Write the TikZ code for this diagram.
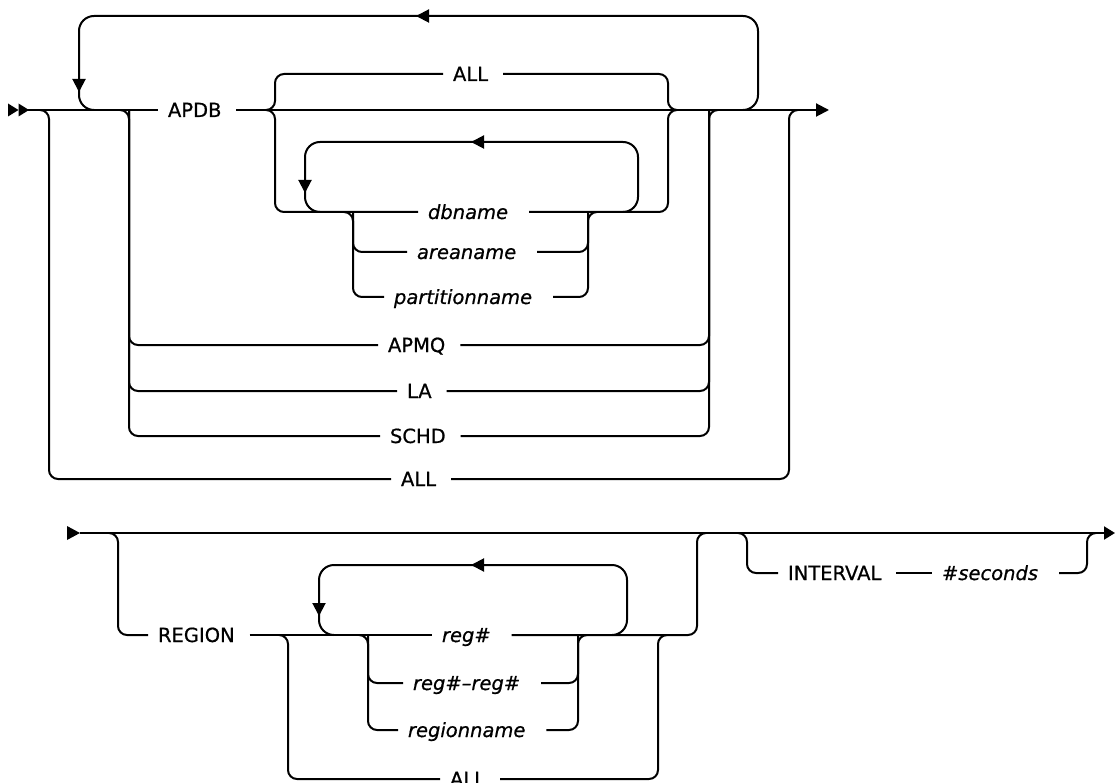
\documentclass[tikz,border=0pt]{standalone}
\usepackage{fontspec}
\setmainfont{DejaVu Sans}[FakeBold=0.7]
\usetikzlibrary{arrows.meta}
\newcommand\kwlab[1]{\kern9pt #1\kern14pt}
\newcommand\varlab[1]{\kern9pt\textit{#1}\kern20pt}
\begin{document}
\begin{tikzpicture}[x=1pt,y=-1pt,line width=2pt,
  lab/.style={inner sep=0pt,anchor=west,text height=14pt,text depth=0pt,font=\fontsize{19.5}{23}\selectfont},
  rail/.style={rounded corners=9pt},
  loopr/.style={rounded corners=15pt},
  headarrow/.style={-{Triangle[length=13pt,width=13pt]}}]
\useasboundingbox (0,0) rectangle (1115,783);

% ---------- top diagram ----------
\coordinate (startT) at (28,110);
\coordinate (s49) at (49,110);
\coordinate (l79) at (79,110);
\coordinate (s129) at (129,110);
\coordinate (s275) at (275,110);
\coordinate (m668) at (668,110);
\coordinate (m709) at (709,110);
\coordinate (l758) at (758,110);
\coordinate (m789) at (789,110);
\coordinate (endT) at (829,110);
\coordinate (lt1) at (758,16);
\coordinate (lt2) at (79,16);
\coordinate (l305) at (305,212);
\coordinate (l638) at (638,212);
\coordinate (it1) at (638,142);
\coordinate (it2) at (305,142);
\coordinate (s353) at (353,212);
\coordinate (m588) at (588,212);

\node[lab] (apdb) at (158,110) {\kwlab{APDB}};
\node[lab] (allA) at (443,74) {\kwlab{ALL}};
\node[lab] (dbname) at (418,212) {\varlab{dbname}};
\node[lab] (areaname) at (407,252) {\varlab{areaname}};
\node[lab] (partname) at (384,297) {\varlab{partitionname}};
\node[lab] (apmq) at (378,345) {\kwlab{APMQ}};
\node[lab] (la) at (397,391) {\kwlab{LA}};
\node[lab] (schd) at (380,436) {\kwlab{SCHD}};
\node[lab] (allB) at (391,479) {\kwlab{ALL}};

% start double arrow
\fill (8,103.5) -- (18.5,110) -- (8,116.5) -- cycle;
\fill (18.5,103.5) -- (29,110) -- (18.5,116.5) -- cycle;

% main line
\draw (startT) -- (apdb.west);
\draw[headarrow] (apdb.east) -- (endT);

% outer ALL
\draw[rail] ([xshift=-9pt]s49) -- (s49) |- (allB.west);
\draw[rail] (allB.east) -| (m789) -- ([xshift=9pt]m789);

% APMQ / LA / SCHD
\draw[rail] ([xshift=-9pt]s129) -- (s129) |- (schd.west);
\draw[rail] (s129) |- (apmq.west);
\draw[rail] (s129) |- (la.west);
\draw[rail] (schd.east) -| (m709) -- ([xshift=9pt]m709);
\draw[rail] (apmq.east) -| (m709);
\draw[rail] (la.east) -| (m709);

% big repeat loop
\draw[loopr] ([xshift=-15pt]l758) -- (l758) -- (lt1) -- (lt2) -- (l79) -- ([xshift=15pt]l79);
\draw[headarrow] (445,16) -- (416,16);
\draw[headarrow] (79,60) -- (79,92);

% APDB options
\draw[rail] ([xshift=-9pt]s275) -- (s275) |- (allA.west);
\draw[rail] ([xshift=-9pt]s275) -- (s275) |- (dbname.west);
\draw[rail] (allA.east) -| (m668) -- ([xshift=9pt]m668);
\draw[rail] (dbname.east) -| (m668) -- ([xshift=9pt]m668);

% inner repeat loop
\draw[loopr] ([xshift=-15pt]l638) -- (l638) -- (it1) -- (it2) -- (l305) -- ([xshift=15pt]l305);
\draw[headarrow] (500,142) -- (471,142);
\draw[headarrow] (305,160) -- (305,193);

% areaname / partitionname
\draw[rail] ([xshift=-9pt]s353) -- (s353) |- (partname.west);
\draw[rail] (s353) |- (areaname.west);
\draw[rail] (partname.east) -| (m588) -- ([xshift=9pt]m588);
\draw[rail] (areaname.east) -| (m588);

% ---------- bottom diagram ----------
\coordinate (startB) at (80,533);
\coordinate (endB) at (1115,533);
\coordinate (s118) at (118,533);
\coordinate (s288) at (288,635);
\coordinate (l319) at (319,635);
\coordinate (s368) at (368,635);
\coordinate (m578) at (578,635);
\coordinate (l627) at (627,635);
\coordinate (m658) at (658,635);
\coordinate (m697) at (697,533);
\coordinate (s747) at (747,533);
\coordinate (m1087) at (1087,533);
\coordinate (bt1) at (627,565);
\coordinate (bt2) at (319,565);

\node[lab] (region) at (148,635) {\kwlab{REGION}};
\node[lab] (reg) at (432,635) {\varlab{reg\#}};
\node[lab] (regreg) at (403,683) {\varlab{reg\#–reg\#}};
\node[lab] (regname) at (398,730) {\varlab{regionname}};
\node[lab] (allC) at (440,779) {\kwlab{ALL}};
\node[lab] (interval) at (778,573) {\kwlab{INTERVAL}};
\node[lab] (secs) at (932,573) {\varlab{\#seconds}};

\fill (67,526) -- (80,533) -- (67,540) -- cycle;
\draw[-{Triangle[length=11pt,width=13pt]}] (startB) -- (endB);

\draw[rail] ([xshift=-9pt]s118) -- (s118) |- (region.west);
\draw (region.east) -- (reg.west);
\draw[rail] (reg.east) -| (m697) -- ([xshift=9pt]m697);

\draw[rail] ([xshift=-9pt]s288) -- (s288) |- (allC.west);
\draw[rail] (allC.east) -| (m658) -- ([xshift=9pt]m658);

\draw[loopr] ([xshift=-15pt]l627) -- (l627) -- (bt1) -- (bt2) -- (l319) -- ([xshift=15pt]l319);
\draw[headarrow] (500,565) -- (471,565);
\draw[headarrow] (319,585) -- (319,616);

\draw[rail] ([xshift=-9pt]s368) -- (s368) |- (regname.west);
\draw[rail] (s368) |- (regreg.west);
\draw[rail] (regname.east) -| (m578) -- ([xshift=9pt]m578);
\draw[rail] (regreg.east) -| (m578);

\draw[rail] ([xshift=-9pt]s747) -- (s747) |- (interval.west);
\draw (interval.east) -- (secs.west);
\draw[rail] (secs.east) -| (m1087) -- ([xshift=9pt]m1087);
\end{tikzpicture}
\end{document}
